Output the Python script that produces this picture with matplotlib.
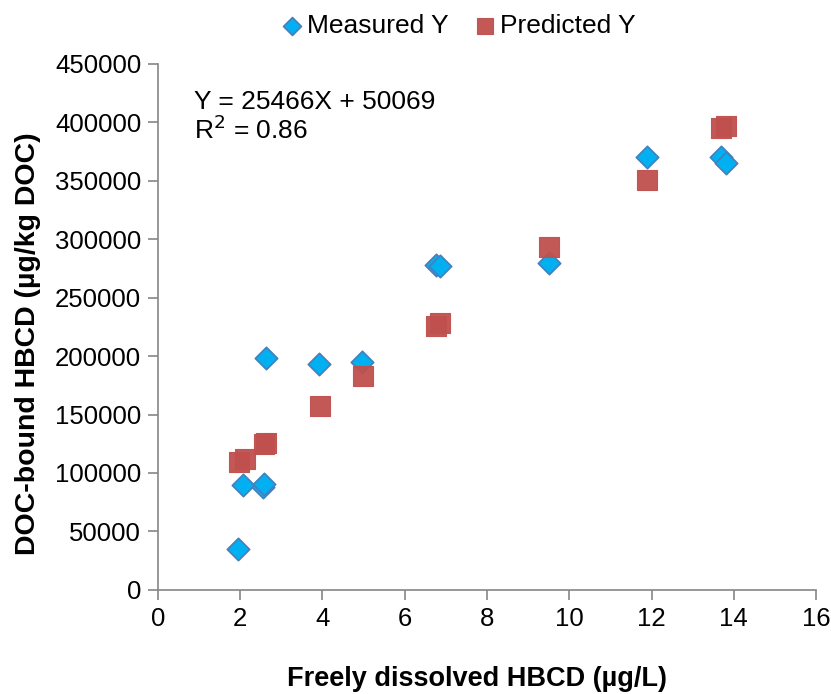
import matplotlib
matplotlib.use("Agg")
import matplotlib.pyplot as plt
from matplotlib.ticker import MultipleLocator

plt.rcParams['font.family'] = ['Liberation Sans', 'DejaVu Sans']

# Freely dissolved HBCD (µg/L) and DOC-bound HBCD (µg/kg DOC)
free_hbcd = [1.95, 2.08, 2.55, 2.57, 2.62, 3.92, 4.97, 6.77, 6.85, 9.52, 11.9, 13.7, 13.8]
measured_y = [35000, 90000, 88000, 91000, 198000, 193500, 195000, 278000, 277000, 280000, 370000, 370000, 365000]
predicted_free = [1.97, 2.12, 2.57, 2.63, 3.94, 4.99, 6.77, 6.85, 9.52, 11.9, 13.7, 13.8]
predicted_y = [109000, 112000, 124500, 126000, 157000, 183000, 226000, 228000, 293000, 351000, 395000, 397000]

fig = plt.figure(figsize=(8.31, 6.94), dpi=100)
ax = fig.add_axes([0.190, 0.150, 0.792, 0.758])

ax.scatter(free_hbcd, measured_y, marker='D', s=130, facecolor='#00B0F0',
           edgecolor='#4A7EBB', linewidth=1.2, label='Measured Y', zorder=3)
ax.scatter(predicted_free, predicted_y, marker='s', s=215, facecolor='#C0504D',
           edgecolor='#C0504D', linewidth=0.8, alpha=0.95, label='Predicted Y', zorder=3)

ax.set_xlim(0, 16)
ax.set_ylim(0, 450000)
ax.xaxis.set_major_locator(MultipleLocator(2))
ax.yaxis.set_major_locator(MultipleLocator(50000))

for side in ('top', 'right'):
    ax.spines[side].set_visible(False)
for side in ('left', 'bottom'):
    ax.spines[side].set_color('#868686')
    ax.spines[side].set_linewidth(1.2)
ax.tick_params(axis='both', colors='#868686', direction='out', length=7, width=1.2,
               labelsize=18.5, labelcolor='black', pad=5)

ax.set_xlabel('Freely dissolved HBCD (µg/L)', fontsize=19.5, fontweight='bold')
ax.set_ylabel('DOC-bound HBCD (µg/kg DOC)', fontsize=20.5, fontweight='bold')
ax.xaxis.set_label_coords(0.485, -0.145)
ax.yaxis.set_label_coords(-0.178, 0.468)

ax.text(0.055, 0.950, 'Y = 25466X + 50069\nR$^2$ = 0.86', transform=ax.transAxes,
        fontsize=19, va='top', ha='left', linespacing=1.05)

leg = fig.legend(loc='center', bbox_to_anchor=(0.552, 0.962), ncol=2, frameon=False,
                 fontsize=19, handlelength=0.8, handletextpad=0.15, columnspacing=1.0,
                 markerscale=0.8)

fig.savefig('out.png', dpi=100)
